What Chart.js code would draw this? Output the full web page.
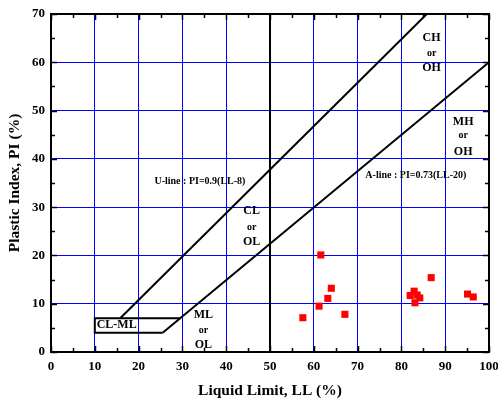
<!DOCTYPE html>
<html>
<head>
<meta charset="utf-8">
<script src="https://cdn.jsdelivr.net/npm/chart.js@4/dist/chart.umd.min.js"></script>
<style>
    html, body { margin: 0; padding: 0; background: #ffffff; }
</style>
</head>
<body>
<canvas id="plasticityChart" width="498" height="399"></canvas>
<script>
// Soil samples
const liquidLimit  = [61.6, 64.0, 63.2, 61.2, 57.5, 67.1, 86.8, 82.9, 82.0, 83.6, 84.2, 83.1, 95.1, 96.4];
const plasticIndex = [20.1, 13.2, 11.1, 9.5, 7.1, 7.8, 15.4, 12.6, 11.7, 11.8, 11.2, 10.2, 12.0, 11.4];

// Classification lines (LL / PI end points)
const uLineLL = [15.8, 85.8];
const uLinePI = [7, 70];
const aLineLL = [25.5, 100];
const aLinePI = [4, 60];
const clmlLL = [29.5, 10, 10, 25.5];
const clmlPI = [7, 7, 4, 4];
const dividerLL = [50, 50];
const dividerPI = [0, 70];

// Axis ticks
const llTicks = [0, 10, 20, 30, 40, 50, 60, 70, 80, 90, 100];
const piTicks = [0, 10, 20, 30, 40, 50, 60, 70];

// Zone labels
const zoneLabels = [
    { lines: ["CH", "or", "OH"], ll: 86.9, pi: [65.0, 61.9, 58.8] },
    { lines: ["MH", "or", "OH"], ll: 94.1, pi: [47.7, 44.8, 41.5] },
    { lines: ["CL", "or", "OL"], ll: 45.8, pi: [29.3, 25.9, 22.8] },
    { lines: ["ML", "or", "OL"], ll: 34.8, pi: [7.7, 4.4, 1.4] },
    { lines: ["CL-ML"], ll: 15.0, pi: [5.6] }
];
const lineLabels = [
    { text: "U-line : PI=0.9(LL-8)", ll: 34.0, pi: 35.3 },
    { text: "A-line : PI=0.73(LL-20)", ll: 83.3, pi: 36.5 }
];

function toPoints(xs, ys) {
    return xs.map((x, i) => ({ x: x, y: ys[i] }));
}

function lineSet(xs, ys) {
    return {
        data: toPoints(xs, ys),
        showLine: true,
        borderColor: '#000000',
        borderWidth: 2,
        pointRadius: 0,
        fill: false
    };
}

const serif = "'Liberation Serif', 'Times New Roman', serif";

// frame, inward ticks and zone text
const framePlugin = {
    id: 'frame',
    afterDatasetsDraw(chart) {
        const ctx = chart.ctx;
        const x = chart.scales.x, y = chart.scales.y;
        const a = chart.chartArea;
        ctx.save();
        ctx.strokeStyle = '#000000';
        ctx.lineWidth = 1.5;
        ctx.beginPath();
        for (let v = 0; v <= 100; v += 5) {
            const len = v % 10 === 0 ? 6 : 4;
            const px = Math.round(x.getPixelForValue(v)) + 0.5;
            ctx.moveTo(px, a.bottom); ctx.lineTo(px, a.bottom - len);
            ctx.moveTo(px, a.top); ctx.lineTo(px, a.top + len);
        }
        for (let v = 0; v <= 70; v += 5) {
            const len = v % 10 === 0 ? 6 : 4;
            const py = Math.round(y.getPixelForValue(v)) + 0.5;
            ctx.moveTo(a.left, py); ctx.lineTo(a.left + len, py);
            ctx.moveTo(a.right, py); ctx.lineTo(a.right - len, py);
        }
        ctx.stroke();
        ctx.lineWidth = 2;
        ctx.strokeRect(a.left, a.top, a.right - a.left, a.bottom - a.top);

        ctx.fillStyle = '#000000';
        ctx.textAlign = 'center';
        ctx.textBaseline = 'middle';
        zoneLabels.forEach(z => {
            z.lines.forEach((t, i) => {
                ctx.font = (t === 'or' ? 'bold 10px ' : 'bold 12px ') + serif;
                ctx.fillText(t, x.getPixelForValue(z.ll), y.getPixelForValue(z.pi[i]));
            });
        });
        ctx.font = 'bold 10px ' + serif;
        lineLabels.forEach(l => {
            ctx.fillText(l.text, x.getPixelForValue(l.ll), y.getPixelForValue(l.pi));
        });
        ctx.restore();
    }
};

const ctx = document.getElementById('plasticityChart').getContext('2d');

new Chart(ctx, {
    type: 'scatter',
    data: {
        datasets: [
            {
                data: toPoints(liquidLimit, plasticIndex),
                pointStyle: 'rect',
                pointRadius: 5,
                backgroundColor: '#ff0000',
                borderColor: '#ff0000',
                borderWidth: 0
            },
            lineSet(uLineLL, uLinePI),
            lineSet(aLineLL, aLinePI),
            lineSet(clmlLL, clmlPI),
            lineSet(dividerLL, dividerPI)
        ]
    },
    options: {
        responsive: false,
        animation: false,
        layout: { padding: { top: 14, right: 9, left: 0, bottom: 0 } },
        plugins: {
            legend: { display: false },
            tooltip: { enabled: false }
        },
        scales: {
            x: {
                type: 'linear',
                min: 0,
                max: 100,
                afterFit(scale) {
                    scale.height = 47;
                    scale.paddingLeft = 0;
                    scale.paddingRight = 0;
                },
                afterBuildTicks(scale) { scale.ticks = llTicks.map(v => ({ value: v })); },
                border: { display: false },
                grid: { color: '#0000ff', lineWidth: 1, drawTicks: false },
                ticks: {
                    padding: 7,
                    color: '#000000',
                    font: { family: serif, size: 13, weight: 'bold' }
                },
                title: {
                    display: true,
                    text: 'Liquid Limit, LL (%)',
                    color: '#000000',
                    padding: { top: 0, bottom: 0 },
                    font: { family: serif, size: 15.5, weight: 'bold', lineHeight: 1 }
                }
            },
            y: {
                type: 'linear',
                min: 0,
                max: 70,
                afterFit(scale) { scale.width = 51; },
                afterBuildTicks(scale) { scale.ticks = piTicks.map(v => ({ value: v })); },
                border: { display: false },
                grid: { color: '#0000ff', lineWidth: 1, drawTicks: false },
                ticks: {
                    padding: 6,
                    color: '#000000',
                    font: { family: serif, size: 13, weight: 'bold' }
                },
                title: {
                    display: true,
                    text: 'Plastic Index, PI (%)',
                    color: '#000000',
                    padding: { top: 6, bottom: 0 },
                    font: { family: serif, size: 15.5, weight: 'bold' }
                }
            }
        }
    },
    plugins: [framePlugin]
});
</script>
</body>
</html>
